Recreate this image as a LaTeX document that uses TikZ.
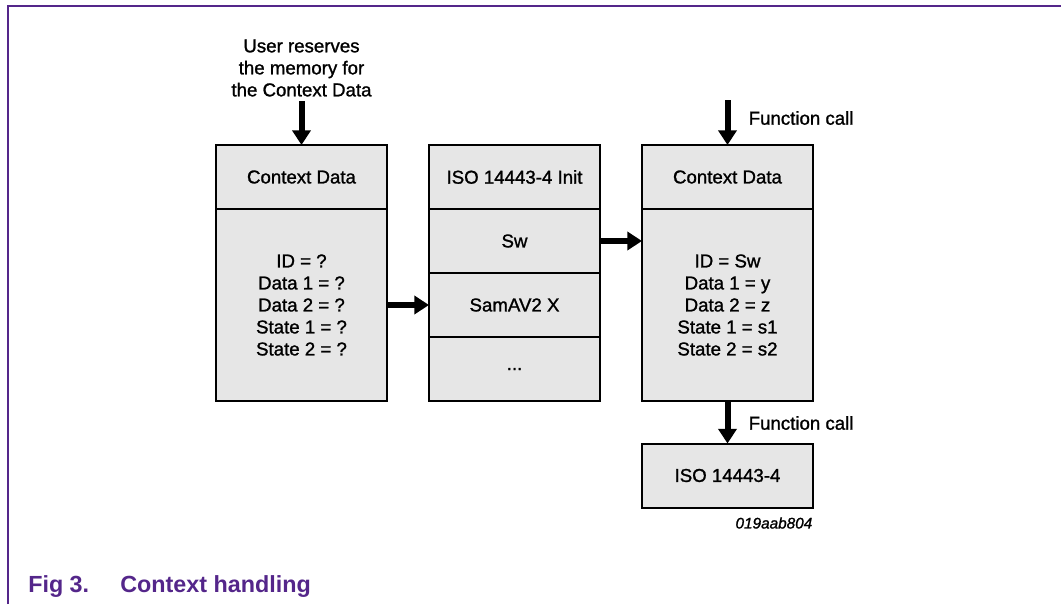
\documentclass[tikz,border=0pt]{standalone}
\usepackage{fontspec}
\setmainfont{Liberation Sans}
\newfontfamily\diagfont[FakeBold=1.2]{Liberation Sans}
\usepackage{xcolor}
\usetikzlibrary{arrows.meta,positioning}
\definecolor{nxppurple}{RGB}{84,38,138}
\definecolor{cellgray}{RGB}{230,230,230}

\begin{document}
\begin{tikzpicture}[x=0.75pt,y=-0.75pt,
    cell/.style={draw=black, fill=cellgray, line width=1.5pt, outer sep=0pt, inner sep=0pt,
      minimum width=128.25pt, minimum height=48pt, align=center, font=\diagfont\fontsize{14}{16.5}\selectfont},
    bigcell/.style={cell, minimum height=144pt},
    note/.style={align=center, font=\diagfont\fontsize{14}{16.5}\selectfont},
    bigarrow/.style={line width=4.5pt, -{Triangle[length=11pt,width=13.5pt]}}]
    \useasboundingbox (0,0) rectangle (1061,604);

    % Frame
    \draw[nxppurple, line width=1.3pt] (8,604) -- (8,6) -- (1061,6);

    % Context Data before init
    \node[cell] (hdrA) at (301.5,177) {Context Data};
    \node[bigcell, below=0pt of hdrA] (bodyA) {ID = ?\\Data 1 = ?\\Data 2 = ?\\State 1 = ?\\State 2 = ?};
    \node[note] (user) at (301.5,68) {User reserves\\the memory for\\the Context Data};

    % Init table
    \node[cell] (hdrB) at (514.5,177) {ISO 14443-4 Init};
    \node[cell, below=0pt of hdrB] (swB) {Sw};
    \node[cell, below=0pt of swB] (samB) {SamAV2 X};
    \node[cell, below=0pt of samB] (dotsB) {...};

    % Context Data after init
    \node[cell] (hdrC) at (727.5,177) {Context Data};
    \node[bigcell, below=0pt of hdrC] (bodyC) {ID = Sw\\Data 1 = y\\Data 2 = z\\State 1 = s1\\State 2 = s2};
    \node[cell] (isoC) at (727.5,475.5) {ISO 14443-4};

    % Arrows
    \coordinate (callTop) at (727.5,100);
    \draw[bigarrow] (user.south) -- (hdrA.north);
    \draw[bigarrow] (bodyA.east) -- (samB.west);
    \draw[bigarrow] (swB.east) -- (swB.east -| bodyC.west);
    \draw[bigarrow] (callTop) -- (hdrC.north);
    \draw[bigarrow] (bodyC.south) -- (isoC.north);

    % Labels
    \node[note, anchor=west] (callA) at (744,118) {Function call};
    \node[note, anchor=west] (callB) at (744,423) {Function call};
    \node[anchor=east, font=\diagfont\fontsize{11.5}{13}\selectfont\itshape] (figid) at (817,523) {019aab804};

    % Caption
    \node[nxppurple, anchor=base west, inner sep=0pt, font=\fontsize{17.5}{19}\selectfont\bfseries] (figno) at (28,592) {Fig 3.};
    \node[nxppurple, anchor=base west, inner sep=0pt, font=\fontsize{17.5}{19}\selectfont\bfseries] (figtitle) at (120,592) {Context handling};
\end{tikzpicture}
\end{document}
